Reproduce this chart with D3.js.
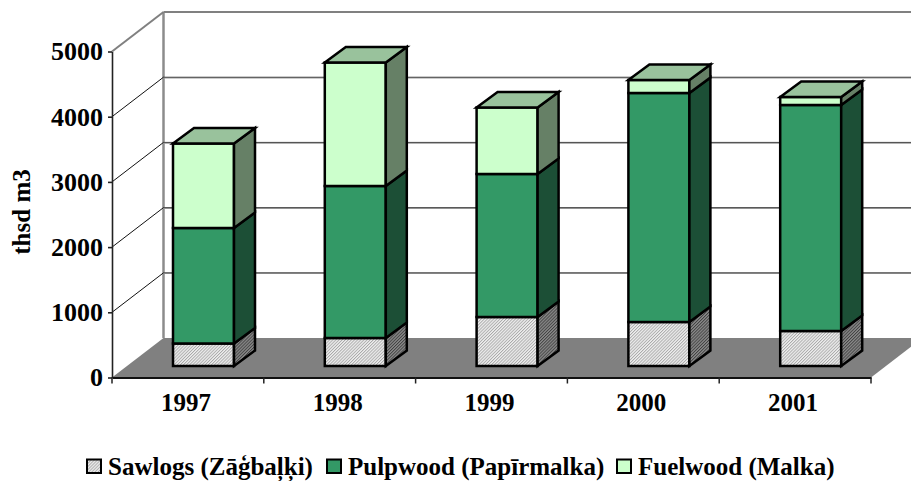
<!DOCTYPE html>
<html><head><meta charset="utf-8">
<script src="https://cdnjs.cloudflare.com/ajax/libs/d3/7.8.5/d3.min.js"></script>
<style>html,body{margin:0;padding:0;background:#fff;overflow:hidden}svg{display:block}
text{font-family:"Liberation Serif",serif;font-weight:bold;fill:#000}</style>
</head><body><svg id="c" width="911" height="481"></svg>
<script>
const categories = ["1997","1998","1999","2000","2001"];
const sawlogs  = [345, 430, 750, 675, 537];
const pulpwood = [1772, 2330, 2195, 3512, 3466];
const fuelwood = [1296, 1895, 1020, 200, 123];
const seriesNames = ["Sawlogs (Zāģbaļķi)","Pulpwood (Papīrmalka)","Fuelwood (Malka)"];
const yTicks = [0,1000,2000,3000,4000,5000];

const svg = d3.select("#c");
const left=112, right=871, y0=377.5, y5=51.5;
const wallDx=51.5, wallDy=-39.5;
const x = d3.scaleBand().domain(categories).range([left,right]).paddingInner(0).paddingOuter(0);
const y = d3.scaleLinear().domain([0,5000]).range([y0,y5]);
const barW=61, barOffX=15.6, barOffY=-11.5, barDx=21, barDy=-15.5;

const defs=svg.append("defs");
function hatch(id,bg,fg){
  const p=defs.append("pattern").attr("id",id).attr("width",2.2).attr("height",2.2)
    .attr("patternUnits","userSpaceOnUse").attr("patternTransform","rotate(-45)");
  p.append("rect").attr("width",2.2).attr("height",2.2).attr("fill",bg);
  p.append("rect").attr("width",2.2).attr("height",0.9).attr("fill",fg);
}
hatch("hf","#efefef","#a8a8a8");
hatch("hs","#8a8a8a","#404040");

const poly=(pts,fill,stroke,sw)=>svg.append("path").attr("d",d3.line()(pts)+"Z")
  .attr("fill",fill).attr("stroke",stroke||"none").attr("stroke-width",sw||0).attr("stroke-linejoin","miter");
const line=(a,b,c,w)=>svg.append("line").attr("x1",a[0]).attr("y1",a[1]).attr("x2",b[0]).attr("y2",b[1])
  .attr("stroke",c).attr("stroke-width",w);

// floor
poly([[left,y0],[left+wallDx,y0+wallDy],[right+wallDx,y0+wallDy],[right,y0]],"#808080");
// walls
line([left+wallDx,y(5000)+wallDy],[left+wallDx,y0+wallDy],"#8c8c8c",2.5);
line([left,y(5000)],[left+wallDx,y(5000)+wallDy],"#808080",2);
line([left+wallDx,y(5000)+wallDy],[right+wallDx,y(5000)+wallDy],"#808080",2);
yTicks.filter(d=>d>0&&d<5000).forEach(d=>{
  line([left+wallDx,y(d)+wallDy+0.5],[right+wallDx,y(d)+wallDy+0.5],"#9a9a9a",1.6);
  line([left+wallDx,y(d)+wallDy],[right+wallDx,y(d)+wallDy],"#444",0.9);
  line([left,y(d)],[left+wallDx,y(d)+wallDy],"#111",1);
});

// bars
const styles=[
 {front:"url(#hf)",side:"url(#hs)",top:"#aaaaaa"},
 {front:"#339966",side:"#1c4f36",top:"#99c29c"},
 {front:"#ccffcc",side:"#668066",top:"#99c29c"}];
const series=[sawlogs,pulpwood,fuelwood];
categories.forEach((c,i)=>{
  const xl=x(c)+x.bandwidth()/2-barW/2+barOffX, xr=xl+barW;
  let base=0;
  series.forEach((s,k)=>{
    const v0=base,v1=base+s[i]; base=v1;
    const yb=y(v0)+barOffY,yt=y(v1)+barOffY;
    poly([[xl,yb],[xr,yb],[xr,yt],[xl,yt]],styles[k].front,"#000",2.5);
    poly([[xr,yb],[xr+barDx,yb+barDy],[xr+barDx,yt+barDy],[xr,yt]],styles[k].side,"#000",2.5);
    if(k===series.length-1)
      poly([[xl,yt],[xl+barDx,yt+barDy],[xr+barDx,yt+barDy],[xr,yt]],styles[k].top,"#000",2.5);
  });
});

// axes
const yAxis=svg.append("g").attr("transform",`translate(${left},0)`)
  .call(d3.axisLeft(y).tickValues(yTicks).tickSize(4).tickPadding(5).tickSizeOuter(0).tickFormat(d3.format("d")));
yAxis.selectAll("text").style("font-size","26px");
yAxis.selectAll("path,line").attr("stroke","#222").attr("stroke-width",1.6);
const xAxis=svg.append("g").attr("transform",`translate(0,${y0})`)
  .call(d3.axisBottom(x).tickSize(0).tickPadding(16).tickSizeOuter(0));
xAxis.selectAll("text").style("font-size","25px").attr("dx",-2);
xAxis.select("path").attr("stroke","#111").attr("stroke-width",1.8);
d3.range(categories.length+1).forEach(i=>{
  const tx=left+i*x.bandwidth();
  line([tx,y0],[tx,y0+6],"#222",1.5);
});
svg.append("text").attr("transform","translate(30,212) rotate(-90)").attr("text-anchor","middle")
  .style("font-size","25px").text("thsd m3");

// legend
const legendSwatch=[87,327,617], legendText=[108,348,638];
seriesNames.forEach((n,k)=>{
  svg.append("rect").attr("x",legendSwatch[k]).attr("y",459.5).attr("width",14).attr("height",13.5)
    .attr("fill",styles[k].front).attr("stroke","#000").attr("stroke-width",2);
  svg.append("text").attr("x",legendText[k]).attr("y",475).style("font-size","25px").text(n);
});
</script></body></html>
